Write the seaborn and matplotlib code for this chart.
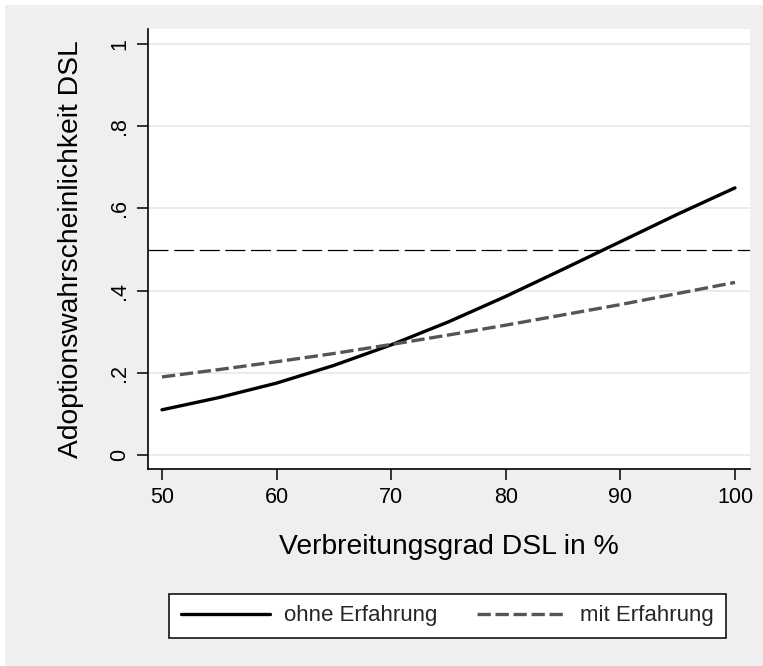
import matplotlib
matplotlib.use("Agg")
import matplotlib.pyplot as plt
import seaborn as sns
import pandas as pd
from matplotlib.patches import Rectangle
from matplotlib.lines import Line2D

# Data
verbreitung = [50, 55, 60, 65, 70, 75, 80, 85, 90, 95, 100]
ohne_erfahrung = [0.110, 0.140, 0.175, 0.218, 0.268, 0.324, 0.386, 0.452, 0.519, 0.586, 0.650]
mit_erfahrung = [0.190, 0.208, 0.227, 0.247, 0.269, 0.292, 0.316, 0.341, 0.366, 0.393, 0.420]
series_names = ["ohne Erfahrung", "mit Erfahrung"]
reference_level = 0.5
y_ticks = [0, 0.2, 0.4, 0.6, 0.8, 1.0]
y_ticklabels = ["0", ".2", ".4", ".6", ".8", "1"]
x_ticks = [50, 60, 70, 80, 90, 100]
x_ticklabels = ["50", "60", "70", "80", "90", "100"]

sns.set_theme(style="white")
plt.rcParams['font.family'] = ['Liberation Sans', 'DejaVu Sans']

W, H = 763, 666
fig = plt.figure(figsize=(W / 100, H / 100), dpi=100, facecolor="white")
fig.patches.append(Rectangle((5 / W, 0), 1 - 5 / W, 1 - 5 / H, transform=fig.transFigure,
                             facecolor="#efefef", edgecolor="none", zorder=-10))

left, right, top, bottom = 148, 750, 29, 469
ax = fig.add_axes([left / W, 1 - bottom / H, (right - left) / W, (bottom - top) / H])
ax.set_facecolor("white")

df = pd.DataFrame({"x": verbreitung * 2,
                   "y": ohne_erfahrung + mit_erfahrung,
                   "g": [series_names[0]] * len(verbreitung) + [series_names[1]] * len(verbreitung)})

for yt in y_ticks:
    ax.axhline(yt, color="#e6e6e6", lw=1.2, zorder=0)

sns.lineplot(data=df[df.g == series_names[0]], x="x", y="y", ax=ax, color="black",
             lw=2.4, legend=False, zorder=3)
sns.lineplot(data=df[df.g == series_names[1]], x="x", y="y", ax=ax, color="#555555",
             lw=2.4, legend=False, zorder=3, dashes=False)
ax.lines[-1].set_dashes([4, 1.4])
ax.axhline(reference_level, color="black", lw=0.9, dashes=(16, 4.5), zorder=2)

ax.set_xlim(48.78, 101.31)
ax.set_ylim(-0.034, 1.0365)
ax.set_xticks(x_ticks)
ax.set_xticklabels(x_ticklabels, fontsize=15.5)
ax.set_yticks(y_ticks)
ax.set_yticklabels(y_ticklabels, fontsize=15.5, rotation=90, va="center")
ax.tick_params(axis="both", direction="out", length=8, width=1.1, color="black",
               colors="black", pad=5, bottom=True, left=True)
for s in ["top", "right"]:
    ax.spines[s].set_visible(False)
for s in ["left", "bottom"]:
    ax.spines[s].set_color("black")
    ax.spines[s].set_linewidth(1.2)

ax.set_xlabel("Verbreitungsgrad DSL in %", fontsize=20.3, labelpad=19, color="black")
ax.set_ylabel("Adoptionswahrscheinlichkeit DSL", fontsize=20.3, labelpad=18, color="black")

handles = [Line2D([], [], color="black", lw=2.4),
           Line2D([], [], color="#555555", lw=2.4, dashes=[4, 1.4])]
leg = ax.legend(handles, series_names, loc="center", ncol=2,
                bbox_to_anchor=(447.5 / W, 50 / H), bbox_transform=fig.transFigure,
                fontsize=16, frameon=True, fancybox=False, edgecolor="black",
                handlelength=4.0, handletextpad=0.63, columnspacing=1.8,
                borderpad=0.52, borderaxespad=0)
leg.get_frame().set_linewidth(1.1)
leg.get_frame().set_facecolor("white")
leg.get_frame().set_alpha(1)

fig.savefig("out.png", dpi=100, facecolor=fig.get_facecolor())
